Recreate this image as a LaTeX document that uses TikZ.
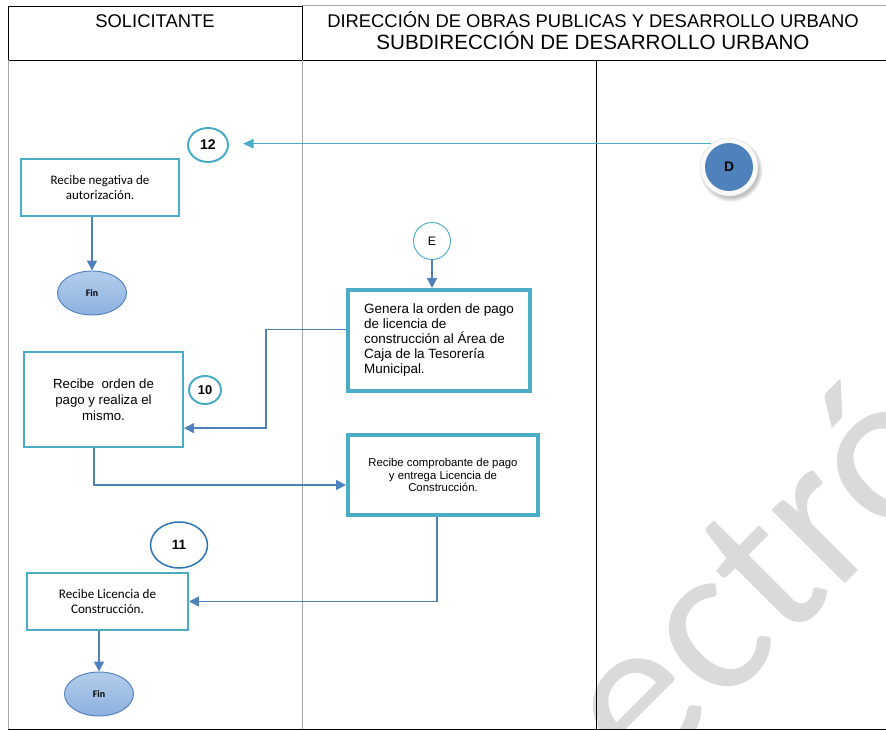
\documentclass[tikz,border=0pt]{standalone}
\usepackage{fontspec}
\setmainfont{Liberation Sans}
\newfontfamily\calibri{Carlito}
\usetikzlibrary{arrows.meta, shapes.geometric, shadows}
\definecolor{cteal}{HTML}{4BACC6}
\definecolor{cblue}{HTML}{4F81BD}
\definecolor{cdark}{HTML}{2E75B6}
\definecolor{cwater}{HTML}{DADADA}
\definecolor{finTop}{HTML}{B3CDEB}
\definecolor{finBot}{HTML}{8CB1DE}
\begin{document}
\begin{tikzpicture}[x=0.03cm, y=-0.03cm,
    box/.style={rectangle, draw=cteal, line width=1.7pt, align=center, inner sep=0pt},
    boxthick/.style={box, line width=3.4pt},
    fin/.style={ellipse, draw=cblue, line width=.8pt, top color=finTop, bottom color=finBot,
      minimum width=2.07cm, minimum height=1.32cm, inner sep=0pt,
      font=\calibri\bfseries\fontsize{8.5pt}{10pt}\selectfont},
    num/.style={ellipse, draw=cteal, line width=1.7pt, inner sep=0pt,
      font=\bfseries\fontsize{12pt}{14pt}\selectfont},
    flow/.style={draw=cblue, line width=1.3pt, -{Triangle[length=8.5pt, width=8.5pt]}},
    lane/.style={draw=gray!70, line width=.8pt},
    rule/.style={draw=black, line width=.8pt}]
  \useasboundingbox (0,0) rectangle (886,730);

  \begin{scope}
    \clip (0,0) rectangle (886,730);
    \node[rotate=45, anchor=base, text=cwater, inner sep=0pt,
      font=\calibri\fontsize{185pt}{185pt}\selectfont] (wm) at (805,624) {ectró};
  \end{scope}

  \draw[rule] (8,6) -- (302,6) (8,6) -- (8,60) (302,5) -- (302,60) (8,60) -- (886,60);
  \draw[lane] (302,5) -- (886,5);
  \draw[lane] (8,60) -- (8,729) (302,60) -- (302,729);
  \draw[rule] (596,60) -- (596,729);
  \draw[rule] (8,729) -- (886,729);

  \node[anchor=base, font=\fontsize{15.7pt}{18pt}\selectfont] (hsol) at (155,27.5) {SOLICITANTE};
  \node[anchor=base, font=\fontsize{15.7pt}{18pt}\selectfont] (hdir) at (593,27.5) {DIRECCIÓN DE OBRAS PUBLICAS Y DESARROLLO URBANO};
  \node[anchor=base, font=\fontsize{17.6pt}{20pt}\selectfont] (hsub) at (593,50) {SUBDIRECCIÓN DE DESARROLLO URBANO};

  \node[num, minimum width=1.2cm, minimum height=1.02cm] (n12) at (208,145) {12};
  \node[circle, minimum size=1.74cm, inner sep=0pt, fill=gray!5, draw=gray!25, line width=.4pt,
    circular drop shadow={shadow xshift=.05cm, shadow yshift=-.08cm, opacity=.6, fill=gray!80},
    path picture={\fill[cblue] (path picture bounding box.center) circle (0.72cm);},
    font=\bfseries\fontsize{11.8pt}{14pt}\selectfont] (d) at (729,167) {D};
  \node[box, minimum width=4.74cm, minimum height=1.71cm,
    font=\calibri\fontsize{11.1pt}{12.75pt}\selectfont] (neg) at (100,187.5) {Recibe negativa de\\autorización.};
  \node[fin] (fin1) at (92,293) {Fin};

  \node[circle, draw=cteal, line width=.8pt, minimum size=1.11cm, inner sep=0pt,
    font=\fontsize{10.5pt}{12pt}\selectfont] (e) at (432,241) {E};
  \node[boxthick, align=left, minimum width=5.46cm, minimum height=3.03cm,
    font=\fontsize{11.5pt}{12.8pt}\selectfont] (orden) at (439,340.5) {Genera la orden de pago\\de licencia de\\construcción al Área de\\Caja de la Tesorería\\Municipal.};
  \node[box, minimum width=4.77cm, minimum height=2.85cm,
    font=\fontsize{11.3pt}{13.6pt}\selectfont] (pago) at (103.5,399.5) {Recibe\ \ orden de\\pago y realiza el\\mismo.};
  \node[num, minimum width=0.96cm, minimum height=0.84cm,
    font=\bfseries\fontsize{11pt}{13pt}\selectfont] (n10) at (205,390) {10};
  \node[boxthick, minimum width=5.7cm, minimum height=2.4cm,
    font=\fontsize{9.7pt}{11pt}\selectfont] (comp) at (443,475) {Recibe comprobante de pago\\y entrega Licencia de\\Construcción.};

  \node[num, draw=cdark, line width=1.3pt, minimum width=1.71cm, minimum height=1.38cm,
    font=\bfseries\fontsize{11.5pt}{13pt}\selectfont] (n11) at (179,545) {11};
  \node[box, minimum width=4.83cm, minimum height=1.71cm,
    font=\calibri\fontsize{11.2pt}{13.6pt}\selectfont] (lic) at (107.5,601.5) {Recibe Licencia de\\Construcción.};
  \node[fin] (fin2) at (99,694) {Fin};

  \draw[draw=cteal, line width=1.3pt, -{Triangle[length=9pt, width=8pt]}, shorten >=0.42cm] (d.127) -- (n12.east |- d.127);
  \draw[flow] (neg.south -| fin1) -- (fin1.north);
  \draw[flow] (e.south) -- (e.south |- orden.north);
  \draw[flow] ([yshift=0.33cm]orden.west) -- ++(-2.4cm,0) |- ([yshift=-0.86cm]pago.east);
  \draw[flow] ([xshift=-0.29cm]pago.south) |- ([yshift=-0.3cm]comp.west);
  \draw[flow] ([xshift=-0.18cm]comp.south) |- (lic.east);
  \draw[flow] (lic.south -| fin2) -- (fin2.north);
\end{tikzpicture}
\end{document}
